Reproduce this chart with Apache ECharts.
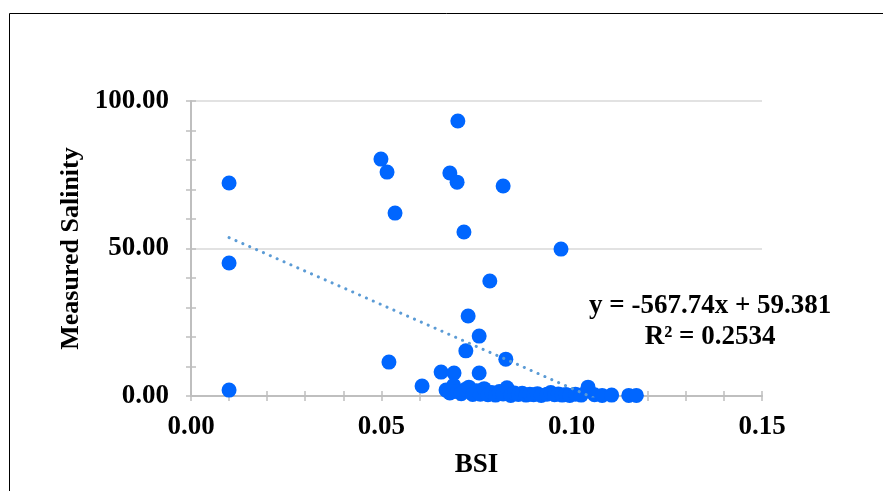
<!DOCTYPE html>
<html>
<head>
<meta charset="utf-8">
<script src="https://cdn.jsdelivr.net/npm/echarts@6/dist/echarts.min.js"></script>
<style>html,body{margin:0;padding:0;background:#fff;}#c{width:883px;height:491px;}</style>
</head>
<body>
<div id="c"></div>
<script>
const bsi = [
  0.010, 0.010, 0.010,
  0.0499, 0.0515, 0.0536, 0.0520,
  0.0701, 0.0680, 0.0699, 0.0717, 0.0820, 0.0785, 0.0972,
  0.0728, 0.0757, 0.0722, 0.0827, 0.0607,
  0.0657, 0.0691, 0.0757, 0.1043,
  0.0670, 0.0680, 0.0690, 0.0700, 0.0710, 0.0720, 0.0730, 0.0740, 0.0750, 0.0760,
  0.0770, 0.0780, 0.0790, 0.0800, 0.0810, 0.0820, 0.0830, 0.0840, 0.0850, 0.0860,
  0.0870, 0.0880, 0.0890, 0.0900, 0.0910, 0.0920, 0.0935, 0.0945, 0.0955, 0.0965,
  0.0975, 0.0985, 0.0995, 0.1010, 0.1025, 0.1060, 0.1080, 0.1105, 0.1150, 0.1170
];
const salinity = [
  72.2, 45.1, 2.0,
  80.3, 75.9, 62.0, 11.5,
  93.2, 75.6, 72.5, 55.6, 71.2, 39.0, 49.8,
  27.1, 20.3, 15.3, 12.5, 3.4,
  8.1, 7.8, 7.8, 3.0,
  2.0, 1.0, 3.6, 1.5, 0.8, 2.2, 3.0, 0.5, 1.8, 0.6,
  2.5, 0.4, 1.2, 0.3, 1.5, 0.7, 2.8, 0.2, 1.0, 0.5,
  0.9, 0.3, 0.6, 0.4, 0.8, 0.2, 0.6, 1.2, 0.4, 0.7,
  0.3, 0.5, 0.2, 0.6, 0.3, 0.4, 0.2, 0.3, 0.2, 0.2
];
const trendSlope = -567.74;
const trendIntercept = 59.381;
const equationLines = ['y = -567.74x + 59.381', 'R² = 0.2534'];
const xName = 'BSI';
const yName = 'Measured Salinity';

const points = bsi.map((x, i) => [x, salinity[i]]);
const xMin = Math.min(...bsi), xMax = Math.max(...bsi);
const trend = [[xMin, trendSlope * xMin + trendIntercept], [xMax, trendSlope * xMax + trendIntercept]];

const font = '"Liberation Serif", "Times New Roman", serif';
const axisGray = '#bfbfbf';
const chart = echarts.init(document.getElementById('c'));
const gridRect = {left: 191, right: 121, top: 101, bottom: 95};
const tickCommon = {show: true, length: 5, lineStyle: {color: axisGray, width: 1.5}};
const tickInside = {show: true, inside: true, length: 5, lineStyle: {color: axisGray, width: 1.5}};
const minor = {show: true, splitNumber: 5, length: 5, lineStyle: {color: axisGray, width: 1.5}};
chart.setOption({
  animation: false,
  backgroundColor: '#fff',
  grid: [Object.assign({}, gridRect), Object.assign({}, gridRect)],
  xAxis: [{
    type: 'value', min: 0, max: 0.15, interval: 0.05, gridIndex: 0,
    name: xName, nameLocation: 'middle', nameGap: 56,
    nameTextStyle: {fontFamily: font, fontWeight: 'bold', fontSize: 27, color: '#000'},
    axisLine: {show: true, lineStyle: {color: axisGray, width: 2}},
    axisTick: tickCommon, minorTick: minor,
    splitLine: {show: false},
    axisLabel: {fontFamily: font, fontWeight: 'bold', fontSize: 27, color: '#000', margin: 18,
      formatter: v => v.toFixed(2)}
  }, {
    type: 'value', min: 0, max: 0.15, interval: 0.05, gridIndex: 1, position: 'bottom',
    axisLine: {show: false}, axisLabel: {show: false}, splitLine: {show: false},
    axisTick: tickInside, minorTick: minor
  }],
  yAxis: [{
    type: 'value', min: 0, max: 100, interval: 50, gridIndex: 0,
    name: yName, nameLocation: 'middle', nameGap: 104,
    nameTextStyle: {fontFamily: font, fontWeight: 'bold', fontSize: 26, color: '#000'},
    axisLine: {show: true, lineStyle: {color: axisGray, width: 2}},
    axisTick: tickCommon, minorTick: minor,
    splitLine: {show: true, lineStyle: {color: '#d9d9d9', width: 1.5}},
    axisLabel: {fontFamily: font, fontWeight: 'bold', fontSize: 27, color: '#000', margin: 22,
      formatter: v => v.toFixed(2)}
  }, {
    type: 'value', min: 0, max: 100, interval: 50, gridIndex: 1, position: 'left',
    axisLine: {show: false}, axisLabel: {show: false}, splitLine: {show: false},
    axisTick: tickInside, minorTick: minor
  }],
  series: [{
    type: 'scatter', data: points, symbolSize: 15, xAxisIndex: 0, yAxisIndex: 0,
    itemStyle: {color: '#0066ff', opacity: 1}, z: 2
  }, {
    type: 'line', data: trend, showSymbol: false, symbol: 'none', clip: true,
    xAxisIndex: 0, yAxisIndex: 0,
    lineStyle: {color: '#5b9bd5', width: 3, type: [0.1, 7.4], cap: 'round'}, z: 3,
    silent: true
  }],
  graphic: [{
    type: 'rect', shape: {x: 9.5, y: 13.5, width: 900, height: 500},
    style: {fill: 'none', stroke: '#000', lineWidth: 1}, silent: true
  }, {
    type: 'text', left: 589, top: 291,
    style: {text: equationLines.join('\n'), font: 'bold 27px ' + font, fill: '#000',
      textAlign: 'center', lineHeight: 31}
  }]
});
</script>
</body>
</html>
